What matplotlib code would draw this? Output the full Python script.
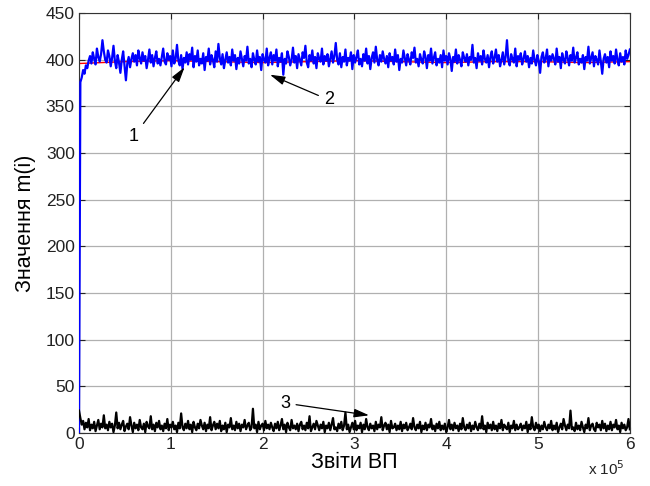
import numpy as np
import matplotlib
matplotlib.use("Agg")
import matplotlib.pyplot as plt

plt.rcParams['font.family'] = ['Liberation Sans', 'DejaVu Sans']

blue = [
    0, 376, 381, 389, 385, 394, 391, 399, 404, 396, 408, 401, 395, 412, 403, 398, 406, 421, 409, 400,
    397, 410, 404, 393, 402, 415, 399, 391, 405, 397, 386, 400, 409, 394, 378, 396, 403, 392, 401, 407,
    398, 405, 394, 410, 402, 396, 408, 399, 404, 391, 400, 411, 397, 405, 393, 402, 409, 396, 401, 394,
    403, 412, 398, 395, 407, 400, 404, 393, 410, 396, 401, 416, 399, 394, 405, 390, 402, 397, 408, 395,
    406, 400, 413, 392, 404, 398, 410, 394, 401, 396, 407, 389, 403, 399, 412, 395, 405, 400, 392, 409,
    398, 417, 402, 395, 406, 391, 400, 408, 397, 403, 394, 411, 399, 405, 390, 402, 396, 409, 401, 393,
    404, 399, 414, 396, 401, 392, 407, 400, 395, 410, 398, 403, 389, 406, 400, 397, 412, 394, 402, 408,
    395, 405, 399, 411, 393, 402, 398, 407, 384, 401, 396, 409, 403, 394, 400, 413, 397, 404, 391, 406,
    400, 394, 408, 402, 415, 397, 392, 405, 399, 410, 396, 403, 391, 407, 401, 398, 412, 395, 404, 399,
    406, 393, 401, 409, 397, 404, 418, 400, 395, 407, 392, 403, 398, 411, 394, 402, 399, 408, 390, 405,
    397, 403, 410, 395, 401, 393, 406, 399, 412, 396, 404, 390, 402, 408, 397, 414, 400, 394, 405, 398,
    409, 401, 396, 404, 392, 407, 399, 403, 395, 411, 398, 405, 389, 401, 397, 410, 402, 394, 406, 400,
    395, 408, 402, 413, 397, 401, 393, 406, 400, 396, 409, 403, 391, 405, 399, 412, 396, 402, 408, 394,
    401, 397, 405, 392, 410, 399, 404, 395, 407, 401, 388, 403, 398, 411, 396, 405, 400, 393, 408, 402,
    398, 406, 394, 403, 400, 416, 397, 402, 391, 407, 399, 404, 395, 410, 401, 397, 405, 392, 403, 409,
    396, 402, 411, 398, 405, 393, 400, 408, 395, 403, 421, 399, 394, 406, 401, 397, 412, 393, 404, 400,
    407, 395, 401, 409, 398, 404, 392, 402, 396, 410, 400, 394, 405, 399, 386, 403, 408, 397, 401, 411,
    393, 404, 399, 406, 401, 395, 412, 398, 403, 391, 407, 400, 396, 409, 402, 394, 405, 399, 413, 397,
    402, 408, 395, 401, 397, 405, 390, 403, 399, 414, 396, 402, 408, 393, 404, 400, 395, 410, 398, 385,
    401, 406, 397, 403, 392, 409, 399, 404, 396, 411, 400, 394, 407, 398, 403, 395, 410, 401, 405, 411,
]

black = [
    24, 16, 9, 13, 4, 11, 6, 15, 3, 9, 5, 12, 2, 8, 14, 4, 10, 6, 19, 5,
    9, 3, 12, 6, 10, 1, 8, 22, 5, 11, 4, 9, 13, 2, 7, 10, 4, 17, 8, 1,
    11, 5, 9, 3, 14, 6, 4, 10, 1, 12, 7, 5, 18, 4, 9, 2, 11, 6, 13, 4,
    8, 2, 10, 5, 15, 3, 9, 6, 12, 4, 8, 1, 11, 5, 21, 6, 3, 10, 5, 13,
    4, 9, 1, 12, 6, 3, 10, 5, 14, 8, 4, 11, 2, 9, 5, 17, 3, 8, 12, 4,
    10, 5, 13, 2, 8, 4, 11, 1, 9, 6, 16, 4, 8, 3, 12, 5, 10, 2, 9, 6,
    14, 4, 8, 11, 3, 6, 26, 5, 9, 1, 12, 4, 8, 10, 3, 13, 5, 9, 4, 11,
    6, 2, 10, 5, 12, 3, 8, 15, 4, 9, 1, 11, 6, 3, 14, 5, 8, 4, 10, 2,
    9, 12, 4, 8, 3, 11, 5, 18, 2, 6, 10, 4, 13, 8, 3, 9, 5, 12, 1, 8,
    5, 11, 3, 9, 16, 4, 6, 2, 10, 5, 12, 3, 8, 22, 4, 9, 1, 6, 11, 4,
    13, 3, 8, 5, 11, 1, 9, 4, 15, 6, 3, 10, 5, 8, 2, 12, 4, 9, 6, 17,
    3, 8, 11, 4, 9, 1, 13, 5, 6, 10, 3, 8, 4, 12, 2, 9, 5, 11, 3, 6,
    10, 4, 16, 6, 3, 9, 5, 12, 1, 8, 4, 11, 3, 9, 6, 15, 4, 8, 2, 10,
    5, 12, 3, 8, 4, 10, 1, 6, 14, 4, 9, 3, 11, 5, 8, 2, 10, 4, 16, 6,
    3, 9, 5, 11, 2, 8, 4, 12, 6, 3, 10, 5, 18, 4, 8, 1, 11, 5, 9, 3,
    12, 4, 8, 2, 10, 5, 14, 3, 9, 6, 4, 11, 1, 8, 5, 13, 3, 9, 4, 6,
    10, 3, 8, 5, 12, 1, 9, 4, 17, 6, 3, 11, 5, 9, 2, 8, 4, 12, 6, 3,
    9, 5, 13, 3, 8, 4, 11, 1, 6, 10, 4, 15, 8, 3, 9, 5, 24, 4, 6, 2,
    11, 4, 8, 3, 12, 6, 1, 9, 5, 16, 3, 8, 10, 4, 2, 11, 6, 9, 3, 13,
    5, 10, 2, 8, 4, 12, 3, 9, 6, 14, 4, 8, 1, 11, 5, 9, 3, 6, 15, 4,
]

red = [396, 398, 399, 398, 397, 398, 399, 398, 397, 398, 398, 397, 398]

x_max = 600000
x_ticks = [0, 1, 2, 3, 4, 5, 6]
y_ticks = [0, 50, 100, 150, 200, 250, 300, 350, 400, 450]

fig = plt.figure(figsize=(6.5, 4.86), dpi=100)
ax = fig.add_axes([0.1215, 0.109, 0.8475, 0.864])

xb = np.linspace(0, x_max, len(blue))
xk = np.linspace(0, x_max, len(black))
xr = np.linspace(0, x_max, len(red))

ax.plot(xr, red, color='red', lw=1.0, zorder=2)
ax.plot(xb, blue, color='blue', lw=1.6, zorder=3)
ax.plot(xk, black, color='black', lw=1.6, zorder=3)

ax.set_xlim(0, x_max)
ax.set_ylim(0, 450)
ax.set_xticks([t * 1e5 for t in x_ticks])
ax.set_xticklabels([str(t) for t in x_ticks])
ax.set_yticks(y_ticks)
ax.set_yticklabels([str(t) for t in y_ticks])
ax.tick_params(direction='in', labelsize=12.5, length=4, top=True, right=True, colors='#222222', pad=3)
ax.grid(True, color='#b0b0b0', lw=0.9, ls='-')
ax.set_axisbelow(True)
for s in ax.spines.values():
    s.set_color('#333333')
    s.set_linewidth(0.8)

ax.set_xlabel('Звіти ВП', fontsize=15.5, labelpad=0)
ax.set_ylabel('Значення m(i)', fontsize=15.5, labelpad=7)
fig.text(0.905, 0.022, r'x 10$^5$', fontsize=11, color='#222222')

arrow = dict(arrowstyle='-|>,head_length=0.7,head_width=0.2', color='black', lw=0.9,
             shrinkA=2, shrinkB=0)
ax.annotate('1', xy=(1.15e5, 392), xytext=(0.6e5, 318), fontsize=13, ha='center', va='center',
            arrowprops=arrow)
ax.annotate('2', xy=(2.08e5, 384), xytext=(2.72e5, 357), fontsize=13, ha='center', va='center',
            arrowprops=arrow)
ax.annotate('3', xy=(3.16e5, 19), xytext=(2.25e5, 32), fontsize=13, ha='center', va='center',
            arrowprops=arrow)

fig.savefig('out.png', dpi=100)
